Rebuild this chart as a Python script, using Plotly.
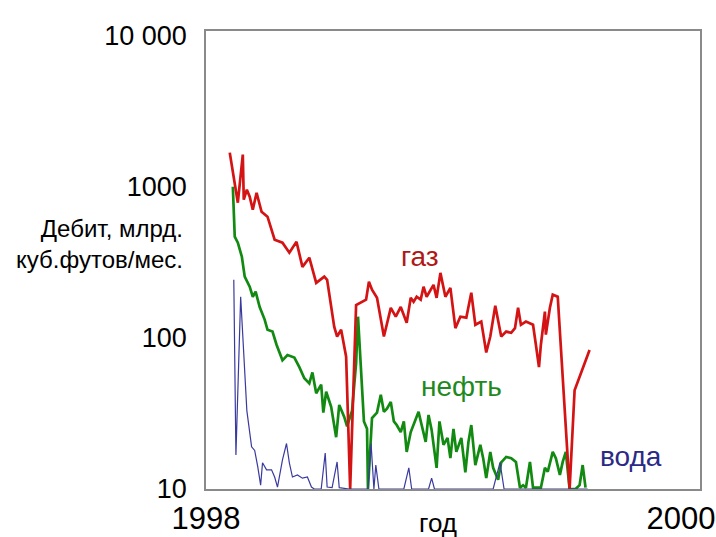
import plotly.graph_objects as go

# ---- data (decimal year, monthly rate) ----
gas_x = [1998.100, 1998.134, 1998.155, 1998.159, 1998.172, 1998.184, 1998.197, 1998.213,
         1998.234, 1998.259, 1998.289, 1998.322, 1998.351, 1998.381, 1998.406, 1998.435,
         1998.464, 1998.498, 1998.510, 1998.540, 1998.552, 1998.569, 1998.590, 1998.607,
         1998.632, 1998.657, 1998.674, 1998.686, 1998.699, 1998.720, 1998.749, 1998.778,
         1998.799, 1998.820, 1998.845, 1998.862, 1998.874, 1998.887, 1998.904, 1998.916,
         1998.929, 1998.958, 1998.971, 1998.987, 1999.008, 1999.029, 1999.050, 1999.071,
         1999.096, 1999.117, 1999.134, 1999.159, 1999.180, 1999.197, 1999.218, 1999.243,
         1999.264, 1999.285, 1999.301, 1999.314, 1999.326, 1999.347, 1999.377, 1999.389,
         1999.402, 1999.410, 1999.427, 1999.431, 1999.448, 1999.460, 1999.481, 1999.531,
         1999.552, 1999.615]
gas_y = [1680, 784, 1630, 820, 955, 859, 704, 912,
         683, 633, 446, 426, 366, 432, 295, 339,
         231, 254, 242, 118, 102, 113, 75, 10,
         165, 173, 179, 235, 208, 184, 102, 158,
         138, 160, 126, 184, 173, 187, 179, 218,
         187, 224, 184, 269, 187, 214, 116, 138,
         136, 199, 122, 128, 80, 102, 163, 102,
         110, 108, 116, 158, 122, 128, 122, 90,
         64, 90, 149, 105, 158, 193, 187, 10,
         45, 83]

oil_x = [1998.113, 1998.121, 1998.134, 1998.151, 1998.163, 1998.184, 1998.197, 1998.209,
         1998.226, 1998.247, 1998.259, 1998.280, 1998.297, 1998.322, 1998.343, 1998.372,
         1998.393, 1998.414, 1998.435, 1998.448, 1998.464, 1998.485, 1998.494, 1998.506,
         1998.527, 1998.548, 1998.561, 1998.582, 1998.594, 1998.615, 1998.632, 1998.640,
         1998.665, 1998.678, 1998.682, 1998.699, 1998.720, 1998.736, 1998.749, 1998.762,
         1998.778, 1998.791, 1998.803, 1998.820, 1998.833, 1998.845, 1998.862, 1998.883,
         1998.895, 1998.908, 1998.925, 1998.937, 1998.950, 1998.971, 1998.983, 1999.000,
         1999.017, 1999.029, 1999.042, 1999.054, 1999.075, 1999.092, 1999.105, 1999.117,
         1999.134, 1999.155, 1999.167, 1999.180, 1999.197, 1999.209, 1999.230, 1999.243,
         1999.264, 1999.285, 1999.305, 1999.322, 1999.335, 1999.347, 1999.364, 1999.377,
         1999.410, 1999.427, 1999.439, 1999.460, 1999.473, 1999.490, 1999.502, 1999.515,
         1999.531, 1999.556, 1999.573, 1999.586, 1999.598]
oil_y = [1000, 467, 426, 344, 254, 218, 187, 202,
         160, 132, 113, 110, 90, 71, 77, 74,
         64, 54, 50, 59, 43, 49, 32, 44,
         35, 22, 36, 30, 26, 33, 68, 138,
         28, 25, 10, 29.5, 32, 42, 32.4, 34,
         37.7, 28, 26.5, 23.8, 28, 17.6, 23.8, 29.5,
         32.4, 26.5, 20.5, 30.9, 24.6, 13.8, 28, 19.6,
         21.8, 16, 25, 17.6, 21.8, 12.9, 20.5, 26.5,
         14.4, 19.6, 16, 11.8, 17.6, 13.8, 11.5, 15,
         16.3, 16, 15.1, 10.2, 10.6, 10.2, 15.1, 10.2,
         10.2, 13.8, 13, 17.6, 16, 12.4, 15.1, 17.6,
         10, 10, 10.6, 14.4, 10.2]

water_x = [1998.117, 1998.126, 1998.146, 1998.172, 1998.192, 1998.205, 1998.218, 1998.230,
           1998.238, 1998.255, 1998.276, 1998.289, 1998.301, 1998.322, 1998.339, 1998.351,
           1998.364, 1998.385, 1998.406, 1998.427, 1998.444, 1998.456, 1998.485, 1998.502,
           1998.510, 1998.531, 1998.552, 1998.561, 1998.603, 1998.665, 1998.682, 1998.695,
           1998.707, 1998.715, 1998.728, 1998.833, 1998.854, 1998.866, 1998.937, 1998.950,
           1998.962, 1999.209, 1999.238, 1999.255, 1999.607]
water_y = [242, 16.8, 187, 33, 19, 18, 14, 10.6,
           14.9, 13.4, 13.4, 12, 10.3, 15.6, 20, 14.9,
           12, 12.4, 11.8, 12, 10.3, 10, 10, 17.3,
           10.3, 10.2, 15.1, 10.2, 10, 10, 10, 20,
           10, 14.4, 10, 10, 13.8, 10, 10, 11.8,
           10, 10, 15, 10, 10]

y_ticks = [10, 100, 1000, 10000]
y_labels = ["10", "100", "1000", "10 000"]
x_ticks = [1998, 2000]
x_labels = ["1998", "2000"]

FONT = "Liberation Sans, Arial, sans-serif"
GAS_C = "#d41414"
OIL_C = "#128a12"
WATER_C = "#3a3a9e"

fig = go.Figure()
fig.add_trace(go.Scatter(x=oil_x, y=oil_y, mode="lines", name="нефть",
                         line=dict(color=OIL_C, width=2.7)))
fig.add_trace(go.Scatter(x=gas_x, y=gas_y, mode="lines", name="газ",
                         line=dict(color=GAS_C, width=2.7)))
fig.add_trace(go.Scatter(x=water_x, y=water_y, mode="lines", name="вода",
                         line=dict(color=WATER_C, width=1.2)))

fig.update_layout(
    width=716, height=537,
    margin=dict(l=206, r=16, t=31, b=48),
    paper_bgcolor="white", plot_bgcolor="white",
    showlegend=False,
    font=dict(family=FONT, color="black"),
    xaxis=dict(range=[1998, 2000.08], tickvals=x_ticks, ticktext=x_labels,
               showgrid=False, zeroline=False, ticks="", automargin=False,
               showline=True, linecolor="#8a8a8a", linewidth=1.5, mirror=True,
               ticklabeloverflow="allow",
               tickfont=dict(size=31, family=FONT), ticklabelstandoff=1),
    yaxis=dict(type="log", range=[1, 4.03], tickvals=y_ticks, ticktext=y_labels,
               showgrid=False, zeroline=False, ticks="", automargin=False,
               showline=True, linecolor="#8a8a8a", linewidth=1.5, mirror=True,
               tickfont=dict(size=27, family=FONT), ticklabelstandoff=12),
)

fig.add_annotation(text="Дебит, млрд.<br>куб.футов/мес.", xref="paper", yref="paper",
                   x=-0.042, y=0.536, xanchor="right", yanchor="middle", align="right",
                   showarrow=False, font=dict(size=24, family=FONT, color="black"))
fig.add_annotation(text="год", xref="paper", yref="paper", x=0.4696, y=-0.075,
                   xanchor="center", yanchor="middle", showarrow=False,
                   font=dict(size=26, family=FONT, color="black"))
fig.add_annotation(text="газ", xref="paper", yref="paper", x=(420 - 206) / 494,
                   y=(489 - 256) / 458, xanchor="center", yanchor="middle",
                   showarrow=False, font=dict(size=28, family=FONT, color="#b01818"))
fig.add_annotation(text="нефть", xref="paper", yref="paper", x=(461 - 206) / 494,
                   y=(489 - 386) / 458, xanchor="center", yanchor="middle",
                   showarrow=False, font=dict(size=28, family=FONT, color="#1e8a1e"))
fig.add_annotation(text="вода", xref="paper", yref="paper", x=(631 - 206) / 494,
                   y=(489 - 456) / 458, xanchor="center", yanchor="middle",
                   showarrow=False, font=dict(size=28, family=FONT, color="#2a2a86"))

fig.write_html("out.html")
